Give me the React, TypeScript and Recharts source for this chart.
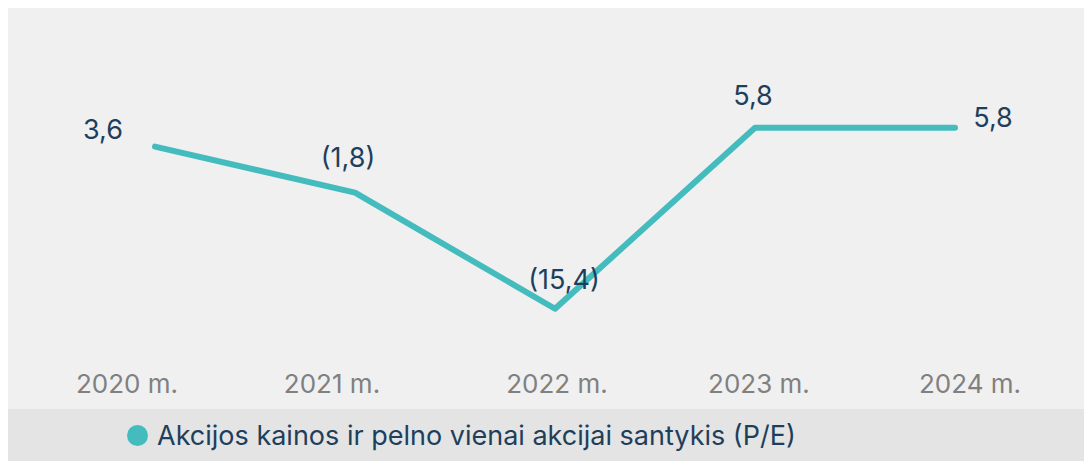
import React from 'react';
import { LineChart, Line, XAxis, YAxis, LabelList } from 'recharts';

const years = ['2020 m.', '2021 m.', '2022 m.', '2023 m.', '2024 m.'];
const peValues = [3.6, -1.8, -15.4, 5.8, 5.8];
const peLabels = ['3,6', '(1,8)', '(15,4)', '5,8', '5,8'];

const seriesName = 'Akcijos kainos ir pelno vienai akcijai santykis (P/E)';

// per-point label nudges, the source places each one by hand
const labelOffsets = [
  { dx: -52, dy: -17 },
  { dx: -7, dy: -35 },
  { dx: 9, dy: -29 },
  { dx: -2, dy: -32 },
  { dx: 38, dy: -10 },
];
// year captions are not centred under the points either
const tickShift = [-28, -23, 2, 4, 15];

const data = years.map((year, i) => ({
  year,
  pe: peValues[i],
  label: peLabels[i],
}));

const LINE_COLOR = '#44bcbe';
const NAVY = '#1e3f5c';
const FONT = 'Inter, "Open Sans", sans-serif';

const PointLabel = (props: any) => {
  const { x, y, index, value } = props;
  const off = labelOffsets[index] || { dx: 0, dy: -20 };
  return (
    <text
      x={x + off.dx}
      y={y + off.dy}
      textAnchor="middle"
      dominantBaseline="central"
      fill={NAVY}
      fontSize={27}
      fontFamily={FONT}
    >
      {value}
    </text>
  );
};

const YearTick = (props: any) => {
  const { x, y, payload, index } = props;
  return (
    <text
      x={x + (tickShift[index] || 0)}
      y={y + 13}
      textAnchor="middle"
      dominantBaseline="central"
      fill="#808080"
      fontSize={26}
      fontFamily={FONT}
    >
      {payload.value}
    </text>
  );
};

export default function App() {
  return (
    <div style={{ width: 1084, fontFamily: FONT }}>
      <div style={{ background: '#f0f0f0', height: 401 }}>
        <LineChart
          width={1084}
          height={401}
          data={data}
          margin={{ top: 84, right: 137, bottom: 0, left: 147 }}
        >
          <XAxis
            dataKey="year"
            axisLine={false}
            tickLine={false}
            tickSize={0}
            tickMargin={22}
            height={61}
            interval={0}
            tick={YearTick}
          />
          <YAxis hide domain={[-20, 10]} />
          <Line
            type="linear"
            dataKey="pe"
            name={seriesName}
            stroke={LINE_COLOR}
            strokeWidth={6}
            strokeLinecap="round"
            strokeLinejoin="round"
            dot={false}
            activeDot={false}
            isAnimationActive={false}
          >
            <LabelList dataKey="label" content={PointLabel} />
          </Line>
        </LineChart>
      </div>
      <div
        style={{
          background: '#e4e4e4',
          height: 52,
          display: 'flex',
          alignItems: 'center',
          paddingLeft: 119,
        }}
      >
        <span
          style={{
            display: 'inline-block',
            width: 21,
            height: 21,
            borderRadius: '50%',
            background: LINE_COLOR,
            marginRight: 9,
            flexShrink: 0,
          }}
        />
        <span style={{ color: NAVY, fontSize: 27, whiteSpace: 'nowrap' }}>{seriesName}</span>
      </div>
    </div>
  );
}
